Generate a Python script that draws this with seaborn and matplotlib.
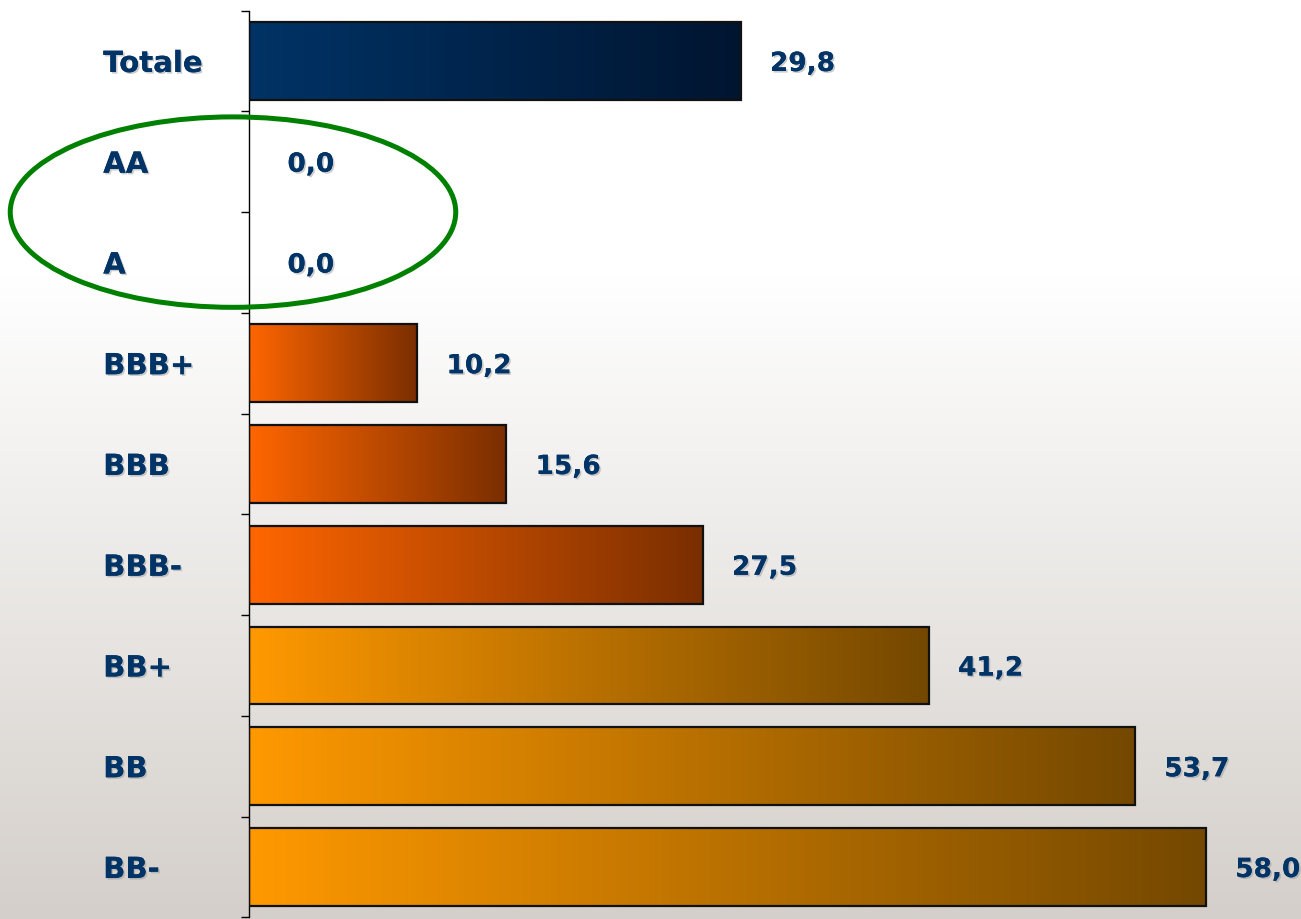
import numpy as np
import pandas as pd
import matplotlib
matplotlib.use("Agg")
import matplotlib.pyplot as plt
import matplotlib.patheffects as pe
from matplotlib.patches import Ellipse
from matplotlib.colors import to_rgb
import seaborn as sns

categories = ["Totale", "AA", "A", "BBB+", "BBB", "BBB-", "BB+", "BB", "BB-"]
values = [29.8, 0.0, 0.0, 10.2, 15.6, 27.5, 41.2, 53.7, 58.0]
value_labels = ["29,8", "0,0", "0,0", "10,2", "15,6", "27,5", "41,2", "53,7", "58,0"]
group = ["tot", "hi", "hi", "bbb", "bbb", "bbb", "bb", "bb", "bb"]

grad_start = {"tot": "#003366", "hi": "#003366", "bbb": "#ff6600", "bb": "#ff9900"}
grad_end = {"tot": "#001530", "hi": "#001530", "bbb": "#7a2e00", "bb": "#744800"}

sns.set_theme(style="white")
plt.rcParams["font.family"] = ["DejaVu Sans"]

W, H = 1301, 920
fig = plt.figure(figsize=(W / 100, H / 100), dpi=100)

# background gradient
bg = fig.add_axes([0, 0, 1, 1], zorder=-10)
bg.axis("off")
yy = np.linspace(0, 1, 400)[:, None]
t = np.clip((yy - 0.3) / 0.7, 0, 1)
top = np.array([1.0, 1.0, 1.0])
bot = np.array([212, 207, 202]) / 255
img = (top * (1 - t) + bot * t)[:, None, :].repeat(2, axis=1)
bg.imshow(img, aspect="auto", extent=[0, 1, 1, 0])
bg.set_xlim(0, 1)
bg.set_ylim(1, 0)

ax = fig.add_axes([249 / W, 1.6 / H, 1 - 249 / W, (918.4 - 11.6) / H])
ax.patch.set_alpha(0)

df = pd.DataFrame({"cat": categories, "val": values})
sns.barplot(data=df, y="cat", x="val", orient="h", width=0.77, ax=ax,
            color="#ff9900", edgecolor="#111111", linewidth=1.6)

ax.set_xlim(0, 63.76)
ax.set_ylim(8.5, -0.5)

grad = np.linspace(0, 1, 256)[None, :, None]
for patch, g in zip(ax.patches, group):
    x0, y0 = patch.get_x(), patch.get_y()
    w, h = patch.get_width(), patch.get_height()
    if w <= 0:
        patch.set_visible(False)
        continue
    c0 = np.array(to_rgb(grad_start[g]))
    c1 = np.array(to_rgb(grad_end[g]))
    im_arr = c0 * (1 - grad) + c1 * grad
    im = ax.imshow(im_arr, aspect="auto", extent=[x0, x0 + w, y0 + h, y0],
                   zorder=2, interpolation="bilinear")
    im.set_clip_path(patch)
    patch.set_facecolor("none")
    patch.set_zorder(3)

ax.set_xlim(0, 63.76)
ax.set_ylim(8.5, -0.5)

txt_color = "#003366"
shadow = [pe.withSimplePatchShadow(offset=(1.2, -1.2), shadow_rgbFace="#9a9a9a", alpha=0.5),
          pe.Normal()]

for i, (v, lab) in enumerate(zip(values, value_labels)):
    ax.text(v + 3.75, i, lab, ha="center", va="center_baseline", fontsize=19,
            fontweight="bold", color=txt_color, path_effects=shadow, clip_on=False)

# axes styling
for s in ["top", "right", "bottom"]:
    ax.spines[s].set_visible(False)
ax.spines["left"].set_color("black")
ax.spines["left"].set_linewidth(1.0)
ax.set_xticks([])
ax.set_xlabel("")
ax.set_ylabel("")
ax.set_yticks(range(len(categories)))
ax.set_yticklabels(categories)
ax.tick_params(axis="y", which="major", length=0, pad=105, left=True)
for tl in ax.get_yticklabels():
    tl.set_horizontalalignment("left")
    tl.set_fontsize(21)
    tl.set_fontweight("bold")
    tl.set_color(txt_color)
    tl.set_path_effects(shadow)
ax.set_yticks(np.arange(-0.5, len(categories), 1.0), minor=True)
ax.tick_params(axis="y", which="minor", length=6, width=1.0, color="black",
               direction="out", left=True)

# green ellipse around AA and A
ell = Ellipse((-0.97, 1.5), width=27.0, height=1.89, fill=False,
              edgecolor="#008000", linewidth=3.6, clip_on=False, zorder=5)
ax.add_patch(ell)

fig.savefig("out.png", dpi=100)
